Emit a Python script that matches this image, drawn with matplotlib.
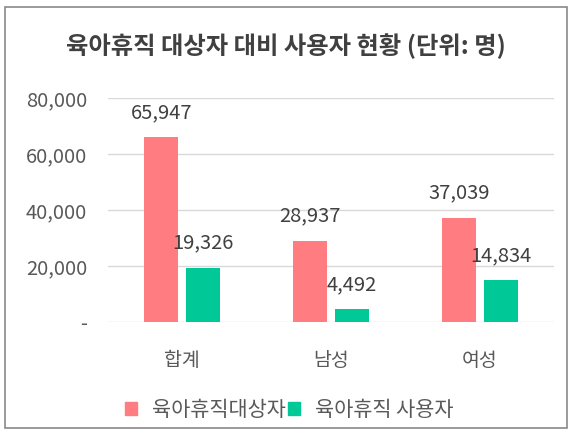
import matplotlib
matplotlib.use("Agg")
import matplotlib.pyplot as plt
from matplotlib.patches import Patch, Rectangle
import numpy as np

plt.rcParams['font.family'] = ['Noto Sans CJK KR', 'DejaVu Sans']
plt.rcParams['font.weight'] = 'light'

categories = ['합계', '남성', '여성']
eligible = [65947, 28937, 37039]
users = [19326, 4492, 14834]
series_names = ['육아휴직대상자', '육아휴직 사용자']
yticks = [0, 20000, 40000, 60000, 80000]
ytick_labels = ['-', '20,000', '40,000', '60,000', '80,000']

c_red = '#FF7C80'
c_green = '#00C896'
c_text = '#595959'

W, H = 573, 436
fig = plt.figure(figsize=(W / 100, H / 100), dpi=100)
ax = fig.add_axes([108 / W, 1 - 322 / H, 446 / W, 224 / H])

x = np.arange(len(categories))
bw = 0.229
off = 0.141
b1 = ax.bar(x - off, eligible, bw, color=c_red, zorder=2)
b2 = ax.bar(x + off, users, bw, color=c_green, zorder=2)

for bars, vals in ((b1, eligible), (b2, users)):
    for r, v in zip(bars, vals):
        ax.annotate(f'{v:,}', (r.get_x() + r.get_width() / 2, v),
                    xytext=(0, 18), textcoords='offset points',
                    ha='center', va='center', fontsize=14.5, color='#404040')

ax.set_xlim(-0.5, 2.5)
ax.set_ylim(0, 80000)
ax.set_yticks(yticks)
ax.set_yticklabels(ytick_labels)
ax.set_xticks(x)
ax.set_xticklabels(categories)
ax.tick_params(axis='y', length=0, pad=15, labelsize=14.5, labelcolor=c_text)
ax.tick_params(axis='x', length=0, pad=20, labelsize=14, labelcolor=c_text)
ax.yaxis.grid(True, color='#D9D9D9', lw=1, zorder=0)
for s in ax.spines.values():
    s.set_visible(False)

fig.text(286 / W, 1 - 46 / H, '육아휴직 대상자 대비 사용자 현황 (단위: 명)',
         ha='center', va='center', fontsize=17.5, fontweight='bold', color='#404040')

handles = [Patch(color=c_red), Patch(color=c_green)]
fig.legend(handles, series_names, loc='center', bbox_to_anchor=(289 / W, 1 - 410 / H),
           ncol=2, frameon=False, fontsize=15, handlelength=0.6, handleheight=0.6,
           handletextpad=0.7, columnspacing=0.1, labelcolor=c_text)

fig.patches.append(Rectangle((5 / W, 1 - 428 / H), 562 / W, 421 / H, transform=fig.transFigure,
                             fill=False, edgecolor='#898989', lw=1.2))

fig.savefig('out.png', dpi=100)
